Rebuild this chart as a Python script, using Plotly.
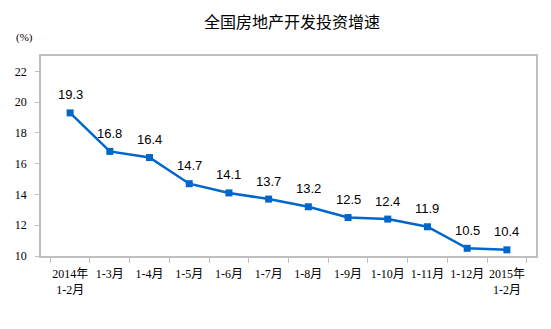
import plotly.graph_objects as go

categories = ["2014年<br>1-2月", "1-3月", "1-4月", "1-5月", "1-6月", "1-7月", "1-8月",
              "1-9月", "1-10月", "1-11月", "1-12月", "2015年<br>1-2月"]
values = [19.3, 16.8, 16.4, 14.7, 14.1, 13.7, 13.2, 12.5, 12.4, 11.9, 10.5, 10.4]
y_ticks = [10, 12, 14, 16, 18, 20, 22]
title_text = "全国房地产开发投资增速"
unit_text = "(%)"

line_color = "#0066CC"
axis_color = "#BFBFBF"
tick_font = dict(family="Liberation Serif, Noto Sans CJK SC", size=12, color="#000000")

fig = go.Figure()
fig.add_trace(go.Scatter(
    x=categories, y=values, mode="lines+markers",
    line=dict(color=line_color, width=2.5),
    marker=dict(symbol="square", size=7, color=line_color),
    hoverinfo="skip", showlegend=False,
))

for c, v in zip(categories, values):
    fig.add_annotation(x=c, y=v, text=f"{v:.1f}", showarrow=False,
                       yshift=18, font=dict(family="Liberation Sans, Arial", size=13, color="#000000"))

fig.add_annotation(xref="paper", yref="paper", x=-0.034, y=1.095, text=unit_text,
                   showarrow=False, xanchor="center", yanchor="middle",
                   font=dict(family="Liberation Serif, Noto Sans CJK SC", size=11, color="#000000"))

fig.update_layout(
    width=551, height=329,
    margin=dict(l=41, r=15, t=56, b=73),
    paper_bgcolor="white", plot_bgcolor="white",
    title=dict(text=title_text, x=0.53, xanchor="center", y=0.933, yanchor="middle",
               font=dict(family="Noto Sans CJK SC", size=16, color="#000000")),
    xaxis=dict(
        type="category", showgrid=False, zeroline=False,
        showline=True, linecolor=axis_color, linewidth=1.5, mirror=True,
        ticks="outside", ticklen=5, tickcolor=axis_color, tickson="boundaries",
        tickfont=tick_font, tickangle=0, ticklabelstandoff=6,
    ),
    yaxis=dict(
        range=[10, 23], tickvals=y_ticks, showgrid=False, zeroline=False,
        showline=True, linecolor=axis_color, linewidth=1.5, mirror=True,
        ticks="outside", ticklen=4, tickcolor=axis_color,
        tickfont=dict(family="Liberation Serif", size=12, color="#000000"),
        ticklabelstandoff=6,
    ),
)

fig.write_html("out.html")
